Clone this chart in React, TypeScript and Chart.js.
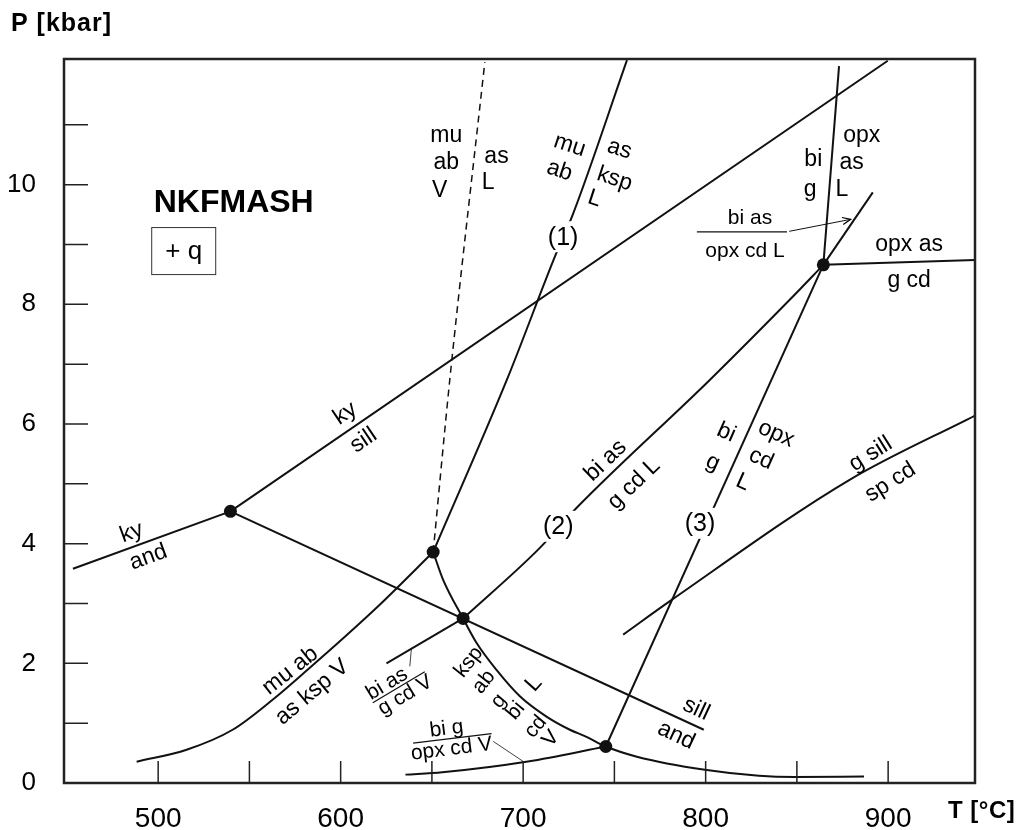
import React, { useEffect, useRef } from 'react';
import { Chart, registerables } from 'chart.js';

Chart.register(...registerables);

const FONT = '"Liberation Sans", Arial, Helvetica, sans-serif';

// Axis ranges and ticks
const T_MIN = 448.4;
const T_MAX = 947.6;
const P_MIN = 0;
const P_MAX = 12.1;
const xTickValues = [500, 550, 600, 650, 700, 750, 800, 850, 900];
const xLabelValues = [500, 600, 700, 800, 900];
const yTickValues = [0, 1, 2, 3, 4, 5, 6, 7, 8, 9, 10, 11];
const yLabelValues = [0, 2, 4, 6, 8, 10];

// Invariant points
const invT = [539.6, 650.7, 667.1, 745.3, 864.5];
const invP = [4.54, 3.86, 2.75, 0.61, 8.66];

// Univariant curves (T in °C, P in kbar)
const kyAndT = [453.3, 539.6];
const kyAndP = [3.58, 4.54];
const kySillT = [539.6, 899.8];
const kySillP = [4.54, 12.07];
const sillAndT = [539.6, 799.0];
const sillAndP = [4.54, 0.89];
const dashedT = [650.7, 659.8, 679.0];
const dashedP = [3.86, 6.74, 12.05];
const line1T = [650.7, 691.1, 718.5, 726.7, 756.9];
const line1P = [3.86, 6.74, 8.88, 9.46, 12.08];
const muAbT = [488.2, 515.6, 540.8, 562.7, 583.1, 602.3, 621.4, 650.7];
const muAbP = [0.356, 0.556, 0.89, 1.392, 1.927, 2.444, 2.979, 3.86];
const solidusT = [650.7, 656.1, 667.1, 674.5, 685.4, 698.2, 712.8, 725.6, 734.1, 745.3, 762.3, 799.6, 829.2, 849.0, 886.8];
const solidusP = [3.86, 3.4, 2.75, 2.34, 1.89, 1.45, 1.11, 0.89, 0.78, 0.61, 0.44, 0.22, 0.12, 0.1, 0.11];
const line2T = [667.1, 708.2, 730.0, 802.4, 846.2, 864.5];
const line2P = [2.75, 3.9, 4.62, 6.74, 8.08, 8.66];
const line2UpperT = [864.5, 891.6];
const line2UpperP = [8.66, 9.87];
const biAsVT = [625.1, 667.1];
const biAsVP = [2.0, 2.75];
const line3T = [745.3, 864.5];
const line3P = [0.61, 8.66];
const topLineT = [864.5, 873.1];
const topLineP = [8.66, 11.98];
const rightLineT = [864.5, 947.6];
const rightLineP = [8.66, 8.74];
const gSillT = [754.8, 781.4, 879.1, 947.6];
const gSillP = [2.48, 3.06, 5.07, 6.14];
const biGOpxT = [635.5, 655.7, 702.6, 745.3];
const biGOpxP = [0.14, 0.18, 0.36, 0.61];

// Label decorations (fraction bars, leaders, arrow)
const bar1T = [617.6, 646.1];
const bar1P = [1.34, 1.86];
const leader1T = [638.8, 637.9];
const leader1P = [2.26, 1.95];
const bar2T = [639.7, 682.7];
const bar2P = [0.668, 0.824];
const leader2T = [683.6, 700.0];
const leader2P = [0.695, 0.361];
const bar3T = [795.2, 844.6];
const bar3P = [9.21, 9.21];
const arrowT = [845.8, 879.5];
const arrowP = [9.22, 9.42];

// Text labels: text, T, P, rotation (deg)
type Lbl = { text: string; t: number; p: number; rot?: number; size?: number; bold?: boolean; bg?: boolean; box?: boolean };
const labels: Lbl[] = [
  { text: 'mu', t: 657.9, p: 10.83 },
  { text: 'ab', t: 657.9, p: 10.39 },
  { text: 'V', t: 654.3, p: 9.91 },
  { text: 'as', t: 685.4, p: 10.48 },
  { text: 'L', t: 680.8, p: 10.05 },
  { text: 'mu', t: 725.6, p: 10.67, rot: 18 },
  { text: 'ab', t: 720.1, p: 10.25, rot: 18 },
  { text: 'as', t: 753.0, p: 10.61, rot: 18 },
  { text: 'ksp', t: 750.3, p: 10.11, rot: 18 },
  { text: 'L', t: 739.3, p: 9.78, rot: 18 },
  { text: '(1)', t: 721.9, p: 9.13, size: 25, bg: true },
  { text: 'ky', t: 602.2, p: 6.19, rot: -34 },
  { text: 'sill', t: 612.3, p: 5.74, rot: -34 },
  { text: 'ky', t: 485.3, p: 4.2, rot: -20 },
  { text: 'and', t: 494.4, p: 3.79, rot: -20 },
  { text: 'sill', t: 795.1, p: 1.25, rot: 25 },
  { text: 'and', t: 784.1, p: 0.81, rot: 25 },
  { text: 'mu ab', t: 572.1, p: 1.89, rot: -38 },
  { text: 'as ksp V', t: 584.0, p: 1.53, rot: -40 },
  { text: 'bi as', t: 625.1, p: 1.67, rot: -31, size: 21 },
  { text: 'g cd V', t: 635.1, p: 1.48, rot: -31, size: 21 },
  { text: 'ksp', t: 669.8, p: 2.03, rot: -52, size: 21 },
  { text: 'ab', t: 678.1, p: 1.7, rot: -52, size: 21 },
  { text: 'g', t: 686.3, p: 1.38, rot: -50, size: 21 },
  { text: 'bi', t: 695.5, p: 1.22, rot: -50, size: 21 },
  { text: 'cd', t: 706.4, p: 0.95, rot: -50, size: 21 },
  { text: 'V', t: 714.7, p: 0.75, rot: -50, size: 21 },
  { text: 'L', t: 705.5, p: 1.67, rot: -48 },
  { text: 'bi g', t: 658.0, p: 0.92, rot: -7, size: 21 },
  { text: 'opx cd V', t: 660.7, p: 0.585, rot: -7, size: 21 },
  { text: 'bi as', t: 744.8, p: 5.4, rot: -44 },
  { text: 'g cd L', t: 760.3, p: 5.01, rot: -44 },
  { text: '(2)', t: 719.2, p: 4.29, size: 25, bg: true },
  { text: 'bi', t: 811.5, p: 5.87, rot: 24 },
  { text: 'g', t: 804.2, p: 5.37, rot: 24 },
  { text: 'opx', t: 838.9, p: 5.85, rot: 24 },
  { text: 'cd', t: 830.7, p: 5.43, rot: 24 },
  { text: 'L', t: 820.6, p: 5.04, rot: 24 },
  { text: '(3)', t: 796.9, p: 4.34, size: 25, bg: true },
  { text: 'g sill', t: 890.1, p: 5.51, rot: -32 },
  { text: 'sp cd', t: 901.0, p: 5.04, rot: -32 },
  { text: 'bi', t: 859.0, p: 10.44 },
  { text: 'g', t: 857.2, p: 9.94 },
  { text: 'opx', t: 885.5, p: 10.83 },
  { text: 'as', t: 880.0, p: 10.39 },
  { text: 'L', t: 874.6, p: 9.94 },
  { text: 'opx as', t: 911.5, p: 9.02 },
  { text: 'g cd', t: 911.5, p: 8.41 },
  { text: 'bi as', t: 824.3, p: 9.45, size: 21 },
  { text: 'opx cd L', t: 821.6, p: 8.91, size: 21 },
  { text: 'NKFMASH', t: 541.4, p: 9.71, size: 32, bold: true },
  { text: '+ q', t: 514.0, p: 8.89, size: 26, box: true },
];

const zip = (ts: number[], ps: number[]) => ts.map((t, i) => ({ x: t, y: ps[i] }));

type LineSpec = { t: number[]; p: number[]; w?: number; dash?: number[]; curve?: boolean };
const lineSpecs: LineSpec[] = [
  { t: kyAndT, p: kyAndP },
  { t: kySillT, p: kySillP },
  { t: sillAndT, p: sillAndP },
  { t: dashedT, p: dashedP, w: 1.5, dash: [7, 5], curve: true },
  { t: line1T, p: line1P, curve: true },
  { t: muAbT, p: muAbP, curve: true },
  { t: solidusT, p: solidusP, curve: true },
  { t: line2T, p: line2P, curve: true },
  { t: line2UpperT, p: line2UpperP },
  { t: biAsVT, p: biAsVP },
  { t: line3T, p: line3P },
  { t: topLineT, p: topLineP },
  { t: rightLineT, p: rightLineP },
  { t: gSillT, p: gSillP, curve: true },
  { t: biGOpxT, p: biGOpxP, curve: true },
  { t: bar1T, p: bar1P, w: 1.2 },
  { t: leader1T, p: leader1P, w: 0.8 },
  { t: bar2T, p: bar2P, w: 1.2 },
  { t: leader2T, p: leader2P, w: 0.8 },
  { t: bar3T, p: bar3P, w: 1.2 },
  { t: arrowT, p: arrowP, w: 1 },
];

const framePlugin = {
  id: 'frame',
  afterDatasetsDraw(chart: any) {
    const { ctx, chartArea: a, scales } = chart;
    const x = scales.x;
    const y = scales.y;
    ctx.save();
    // inside ticks
    ctx.strokeStyle = '#222';
    ctx.lineWidth = 1.5;
    ctx.beginPath();
    for (const v of xTickValues) {
      const px = x.getPixelForValue(v);
      ctx.moveTo(px, a.bottom);
      ctx.lineTo(px, a.bottom - 22);
    }
    for (const v of yTickValues) {
      const py = y.getPixelForValue(v);
      ctx.moveTo(a.left, py);
      ctx.lineTo(a.left + 24, py);
    }
    ctx.stroke();
    // frame
    ctx.strokeStyle = '#222';
    ctx.lineWidth = 2.5;
    ctx.strokeRect(a.left, a.top, a.right - a.left, a.bottom - a.top);

    // arrow head
    const ax0 = x.getPixelForValue(arrowT[0]);
    const ay0 = y.getPixelForValue(arrowP[0]);
    const ax1 = x.getPixelForValue(arrowT[1]);
    const ay1 = y.getPixelForValue(arrowP[1]);
    const ang = Math.atan2(ay1 - ay0, ax1 - ax0);
    ctx.lineWidth = 1.2;
    ctx.strokeStyle = '#000';
    ctx.beginPath();
    ctx.moveTo(ax1 - 9 * Math.cos(ang - 0.4), ay1 - 9 * Math.sin(ang - 0.4));
    ctx.lineTo(ax1, ay1);
    ctx.lineTo(ax1 - 9 * Math.cos(ang + 0.4), ay1 - 9 * Math.sin(ang + 0.4));
    ctx.stroke();

    // labels
    for (const lb of labels) {
      const px = x.getPixelForValue(lb.t);
      const py = y.getPixelForValue(lb.p);
      const size = lb.size ?? 23;
      ctx.save();
      ctx.translate(px, py);
      ctx.rotate(((lb.rot ?? 0) * Math.PI) / 180);
      ctx.font = `${lb.bold ? 'bold ' : ''}${size}px ${FONT}`;
      ctx.textAlign = 'center';
      ctx.textBaseline = 'middle';
      const w = ctx.measureText(lb.text).width;
      if (lb.bg) {
        ctx.fillStyle = '#fff';
        ctx.fillRect(-w / 2 - 2, -size / 2 - 3, w + 4, size + 6);
      }
      if (lb.box) {
        ctx.strokeStyle = '#333';
        ctx.lineWidth = 1;
        ctx.strokeRect(-32, -23.5, 64, 47);
      }
      ctx.fillStyle = '#000';
      ctx.fillText(lb.text, 0, 1);
      ctx.restore();
    }

    // axis titles
    ctx.fillStyle = '#000';
    ctx.textAlign = 'left';
    ctx.textBaseline = 'middle';
    ctx.font = `bold 25px ${FONT}`;
    try { (ctx as any).letterSpacing = '1px'; } catch (e) { /* ignore */ }
    ctx.fillText('P [kbar]', a.left - 53, a.top - 35);
    ctx.font = `bold 24px ${FONT}`;
    try { (ctx as any).letterSpacing = '0.5px'; } catch (e) { /* ignore */ }
    ctx.fillText('T [°C]', a.right - 27, a.bottom + 28);
    try { (ctx as any).letterSpacing = '0px'; } catch (e) { /* ignore */ }
    ctx.restore();
  },
};

export default function App() {
  const ref = useRef<HTMLCanvasElement | null>(null);
  useEffect(() => {
    if (!ref.current) return;
    const datasets: any[] = lineSpecs.map((s) => ({
      data: zip(s.t, s.p),
      showLine: true,
      borderColor: '#111',
      borderWidth: s.w ?? 2,
      borderDash: s.dash ?? [],
      pointRadius: 0,
      cubicInterpolationMode: s.curve ? 'monotone' : 'default',
      tension: 0,
      fill: false,
    }));
    datasets.push({
      data: zip(invT, invP),
      showLine: false,
      pointRadius: 6.5,
      pointBackgroundColor: '#111',
      pointBorderWidth: 0,
    });
    const chart = new Chart(ref.current, {
      type: 'scatter',
      data: { datasets },
      options: {
        animation: false,
        responsive: false,
        devicePixelRatio: 1,
        layout: { padding: { top: 59, right: 45, left: 0, bottom: 0 } },
        plugins: { legend: { display: false }, tooltip: { enabled: false } },
        events: [],
        scales: {
          x: {
            type: 'linear',
            min: T_MIN,
            max: T_MAX,
            grid: { display: false },
            border: { display: false },
            afterBuildTicks: (s: any) => {
              s.ticks = xLabelValues.map((v) => ({ value: v }));
            },
            afterFit: (s: any) => {
              s.height = 47;
            },
            ticks: {
              color: '#000',
              padding: 11,
              maxRotation: 0,
              autoSkip: false,
              font: { family: FONT, size: 28 },
              callback: (v: any) => String(v),
            },
          },
          y: {
            type: 'linear',
            min: P_MIN,
            max: P_MAX,
            grid: { display: false },
            border: { display: false },
            afterBuildTicks: (s: any) => {
              s.ticks = yLabelValues.map((v) => ({ value: v }));
            },
            afterFit: (s: any) => {
              s.width = 64;
            },
            ticks: {
              color: '#000',
              padding: 20,
              autoSkip: false,
              font: { family: FONT, size: 26 },
              callback: (v: any) => String(v),
            },
          },
        },
      },
      plugins: [framePlugin],
    });
    return () => chart.destroy();
  }, []);
  return (
    <div style={{ position: 'absolute', left: 0, top: 0, width: 1020, height: 830, background: '#fff' }}>
      <canvas ref={ref} width={1020} height={830} style={{ width: 1020, height: 830 }} />
    </div>
  );
}
